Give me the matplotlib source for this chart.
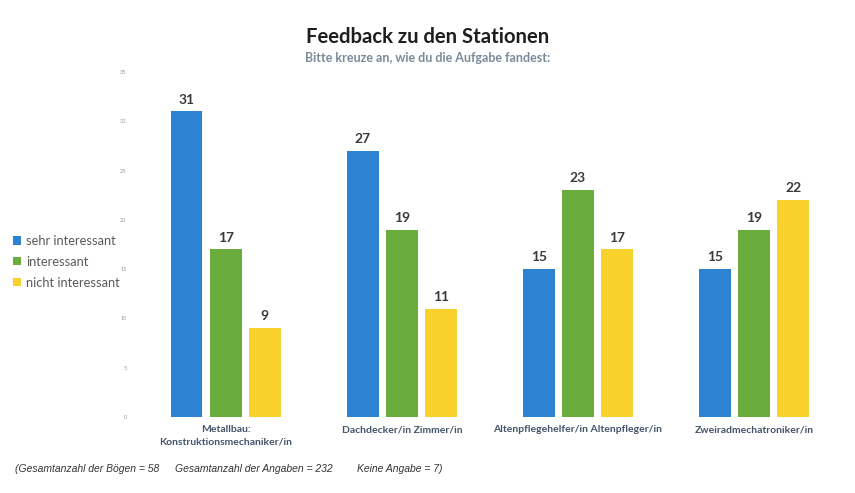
import matplotlib
matplotlib.use("Agg")
import matplotlib.pyplot as plt
import numpy as np

plt.rcParams['font.family'] = ['Lato', 'DejaVu Sans']

stationen = ["Metallbau:\nKonstruktionsmechaniker/in", "Dachdecker/in Zimmer/in",
             "Altenpflegehelfer/in Altenpfleger/in", "Zweiradmechatroniker/in"]
serien = ["sehr interessant", "interessant", "nicht interessant"]
sehr_interessant = [31, 27, 15, 15]
interessant = [17, 19, 23, 19]
nicht_interessant = [9, 11, 17, 22]
farben = ["#2e82d2", "#6aac3d", "#f8d12c"]

fig = plt.figure(figsize=(8.55, 4.93), dpi=100)
ax = fig.add_axes([0.161, 0.154, 0.824, 0.700])

x = np.arange(len(stationen))
breite = 0.18
abstand = 0.222
werte = [sehr_interessant, interessant, nicht_interessant]
for i, (name, w, c) in enumerate(zip(serien, werte, farben)):
    bars = ax.bar(x + (i - 1) * abstand, w, breite, color=c, label=name)
    for b, v in zip(bars, w):
        ax.text(b.get_x() + b.get_width() / 2, v + 0.6, str(v), ha='center', va='bottom',
                fontsize=10, fontweight='bold', color='#3a3a3a')

ax.set_xlim(-0.5, 3.5)
ax.set_ylim(0, 35)
ax.set_yticks(range(0, 36, 5))
ax.tick_params(axis='y', labelsize=4, colors='#999999', length=0, pad=8)
ax.set_xticks(x)
ax.set_xticklabels(stationen, fontsize=7.5, fontweight='bold', color='#44546a', linespacing=1.5)
ax.tick_params(axis='x', length=0, pad=6)
for s in ax.spines.values():
    s.set_visible(False)

leg = fig.legend(loc='upper left', bbox_to_anchor=(0.002, 0.547), frameon=False,
                 fontsize=9.3, handlelength=0.6, handleheight=0.6, handletextpad=0.4,
                 labelspacing=0.68, labelcolor='#5a5a5a')

fig.text(0.5, 0.925, "Feedback zu den Stationen", ha='center', va='center',
         fontsize=14.6, fontweight='bold', color='#1e1e1e')
fig.text(0.5, 0.883, "Bitte kreuze an, wie du die Aufgabe fandest:", ha='center', va='center',
         fontsize=9, fontweight='bold', color='#7a8a99')

fuss = dict(fontsize=7.5, style='italic', color='#333333', family='Liberation Sans', va='center')
fig.text(0.018, 0.049, "(Gesamtanzahl der Bögen = 58", **fuss)
fig.text(0.205, 0.049, "Gesamtanzahl der Angaben = 232", **fuss)
fig.text(0.418, 0.049, "Keine Angabe = 7)", **fuss)

fig.savefig("out.png", dpi=100)
